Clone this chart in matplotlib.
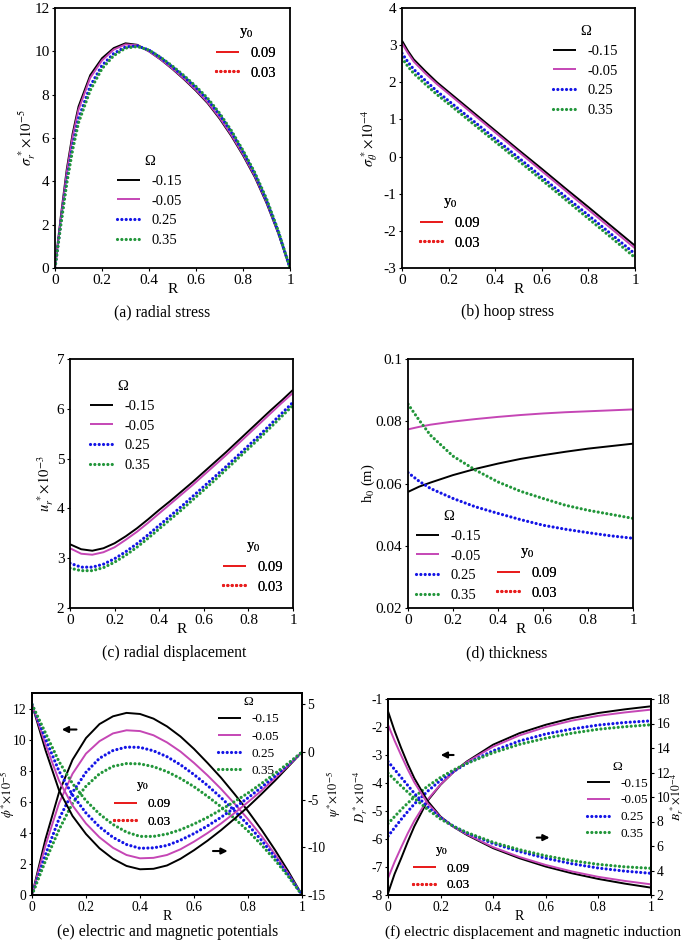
import matplotlib
matplotlib.use("Agg")
import matplotlib.pyplot as plt
from matplotlib.lines import Line2D

plt.rcParams['font.family'] = ['Liberation Serif', 'DejaVu Serif']
plt.rcParams['mathtext.fontset'] = 'stix'
plt.rcParams['font.size'] = 10.5
plt.rcParams['axes.unicode_minus'] = False

# ---------------- data ----------------
omega_labels = ['-0.15', '-0.05', '0.25', '0.35']
y0_labels = ['0.09', '0.03']

# (a) radial stress
R_a = [0, 0.025, 0.05, 0.075, 0.1, 0.15, 0.2, 0.25, 0.3, 0.35, 0.4, 0.45, 0.5, 0.55, 0.6, 0.65, 0.7, 0.75, 0.8, 0.85, 0.9, 0.95, 1.0]
sr_m015 = [0, 2.4, 4.55, 6.2, 7.45, 8.9, 9.68, 10.15, 10.37, 10.3, 10.0, 9.62, 9.18, 8.7, 8.18, 7.6, 6.9, 6.1, 5.2, 4.2, 3.0, 1.6, 0]
sr_m005 = [0, 2.3, 4.4, 6.05, 7.3, 8.78, 9.58, 10.08, 10.32, 10.28, 10.0, 9.63, 9.2, 8.73, 8.22, 7.64, 6.95, 6.15, 5.25, 4.25, 3.05, 1.63, 0]
sr_p025 = [0, 2.1, 4.05, 5.65, 6.9, 8.4, 9.35, 9.9, 10.2, 10.25, 10.06, 9.7, 9.28, 8.82, 8.32, 7.76, 7.08, 6.28, 5.36, 4.34, 3.12, 1.68, 0]
sr_p035 = [0, 2.0, 3.9, 5.45, 6.7, 8.2, 9.2, 9.8, 10.15, 10.22, 10.06, 9.72, 9.32, 8.87, 8.38, 7.83, 7.15, 6.35, 5.43, 4.41, 3.2, 1.72, 0]

# (b) hoop stress
R_b = [0, 0.025, 0.05, 0.1, 0.15, 0.2, 0.3, 0.4, 0.5, 0.6, 0.7, 0.8, 0.9, 1.0]
st_m015 = [3.12, 2.85, 2.62, 2.3, 2.0, 1.74, 1.22, 0.70, 0.18, -0.33, -0.85, -1.36, -1.88, -2.40]
st_m005 = [3.05, 2.79, 2.56, 2.24, 1.95, 1.69, 1.17, 0.65, 0.13, -0.39, -0.91, -1.43, -1.95, -2.47]
st_p025 = [2.78, 2.55, 2.35, 2.05, 1.76, 1.50, 0.99, 0.48, -0.03, -0.55, -1.07, -1.58, -2.10, -2.62]
st_p035 = [2.65, 2.43, 2.24, 1.95, 1.67, 1.42, 0.91, 0.40, -0.11, -0.63, -1.15, -1.67, -2.19, -2.72]

# (c) radial displacement
R_c = [0, 0.05, 0.1, 0.15, 0.2, 0.25, 0.3, 0.35, 0.4, 0.45, 0.5, 0.55, 0.6, 0.65, 0.7, 0.75, 0.8, 0.85, 0.9, 0.95, 1.0]
ur_m015 = [3.28, 3.18, 3.15, 3.2, 3.3, 3.44, 3.6, 3.78, 3.97, 4.15, 4.34, 4.53, 4.73, 4.93, 5.13, 5.34, 5.55, 5.76, 5.97, 6.17, 6.38]
ur_m005 = [3.2, 3.09, 3.07, 3.12, 3.22, 3.37, 3.53, 3.71, 3.9, 4.09, 4.28, 4.47, 4.67, 4.87, 5.07, 5.28, 5.49, 5.7, 5.91, 6.12, 6.32]
ur_p025 = [2.9, 2.82, 2.82, 2.88, 2.99, 3.13, 3.29, 3.47, 3.66, 3.85, 4.04, 4.24, 4.44, 4.64, 4.84, 5.05, 5.26, 5.47, 5.69, 5.91, 6.13]
ur_p035 = [2.8, 2.75, 2.75, 2.81, 2.92, 3.06, 3.22, 3.4, 3.59, 3.78, 3.97, 4.17, 4.37, 4.57, 4.78, 4.99, 5.2, 5.41, 5.63, 5.85, 6.07]

# (d) thickness
R_d = [0, 0.05, 0.1, 0.2, 0.3, 0.4, 0.5, 0.6, 0.7, 0.8, 0.9, 1.0]
h_m015 = [0.0573, 0.0590, 0.0603, 0.0627, 0.0647, 0.0664, 0.0679, 0.0691, 0.0702, 0.0712, 0.0720, 0.0728]
h_m005 = [0.0774, 0.0782, 0.0789, 0.0799, 0.0807, 0.0814, 0.0820, 0.0825, 0.0829, 0.0832, 0.0835, 0.0838]
h_p025 = [0.0635, 0.0607, 0.0584, 0.0552, 0.0525, 0.0504, 0.0484, 0.0466, 0.0453, 0.0442, 0.0432, 0.0424]
h_p035 = [0.0855, 0.0803, 0.0755, 0.0688, 0.0643, 0.0605, 0.0575, 0.0552, 0.0530, 0.0514, 0.0501, 0.0488]

# (e) electric (phi, left) and magnetic (psi, right) potentials
R_e = [0, 0.05, 0.1, 0.15, 0.2, 0.25, 0.3, 0.35, 0.4, 0.45, 0.5, 0.55, 0.6, 0.65, 0.7, 0.75, 0.8, 0.85, 0.9, 0.95, 1.0]
phi_m015 = [0, 3.6, 6.6, 8.7, 10.1, 11.0, 11.5, 11.72, 11.65, 11.35, 10.85, 10.2, 9.4, 8.5, 7.55, 6.5, 5.4, 4.2, 2.9, 1.5, 0]
phi_m005 = [0, 3.2, 5.9, 7.8, 9.1, 9.9, 10.4, 10.6, 10.55, 10.28, 9.82, 9.23, 8.5, 7.7, 6.83, 5.88, 4.88, 3.8, 2.62, 1.36, 0]
phi_p025 = [0, 2.6, 4.9, 6.6, 7.9, 8.8, 9.3, 9.52, 9.5, 9.28, 8.9, 8.38, 7.75, 7.05, 6.27, 5.42, 4.52, 3.52, 2.44, 1.27, 0]
phi_p035 = [0, 2.2, 4.2, 5.9, 7.0, 7.8, 8.28, 8.46, 8.44, 8.26, 7.94, 7.5, 6.97, 6.35, 5.68, 4.93, 4.12, 3.23, 2.25, 1.18, 0]
psi_m015 = [5, 0.2, -4.0, -6.7, -8.6, -10.1, -11.2, -11.95, -12.3, -12.25, -11.9, -11.2, -10.3, -9.3, -8.2, -7.0, -5.75, -4.4, -3.0, -1.5, 0]
psi_m005 = [5, 0.8, -3.0, -5.6, -7.5, -8.95, -10.05, -10.8, -11.15, -11.1, -10.8, -10.2, -9.4, -8.5, -7.5, -6.4, -5.25, -4.05, -2.75, -1.4, 0]
psi_p025 = [5, 1.4, -2.0, -4.5, -6.4, -7.85, -8.95, -9.7, -10.1, -10.05, -9.8, -9.25, -8.55, -7.75, -6.85, -5.85, -4.8, -3.7, -2.52, -1.28, 0]
psi_p035 = [5, 2.0, -1.0, -3.3, -5.1, -6.5, -7.6, -8.4, -8.85, -8.85, -8.6, -8.15, -7.55, -6.85, -6.05, -5.2, -4.3, -3.3, -2.25, -1.15, 0]

# (f) electric displacement (D, left) and magnetic induction (B, right)
R_f = [0, 0.025, 0.05, 0.075, 0.1, 0.15, 0.2, 0.25, 0.3, 0.4, 0.5, 0.6, 0.7, 0.8, 0.9, 1.0]
D_m015 = [-7.94, -7.25, -6.69, -6.1, -5.55, -4.64, -4.06, -3.6, -3.23, -2.63, -2.22, -1.92, -1.68, -1.5, -1.37, -1.26]
D_m005 = [-7.4, -6.82, -6.3, -5.8, -5.35, -4.6, -4.05, -3.6, -3.25, -2.7, -2.3, -2.0, -1.77, -1.6, -1.48, -1.38]
D_p025 = [-5.9, -5.6, -5.3, -5.02, -4.75, -4.3, -3.9, -3.58, -3.3, -2.85, -2.5, -2.25, -2.07, -1.93, -1.84, -1.78]
D_p035 = [-5.45, -5.2, -4.95, -4.72, -4.5, -4.12, -3.8, -3.53, -3.3, -2.92, -2.62, -2.4, -2.22, -2.08, -1.99, -1.92]
B_m015 = [17.0, 15.4, 14.0, 12.7, 11.54, 9.69, 8.4, 7.55, 6.9, 5.82, 5.0, 4.32, 3.77, 3.31, 2.93, 2.6]
B_m005 = [15.9, 14.6, 13.4, 12.25, 11.2, 9.5, 8.35, 7.55, 6.95, 5.9, 5.1, 4.45, 3.92, 3.48, 3.15, 2.87]
B_p025 = [12.9, 12.25, 11.6, 10.95, 10.3, 9.2, 8.3, 7.6, 7.05, 6.2, 5.55, 5.0, 4.55, 4.2, 3.95, 3.77]
B_p035 = [11.95, 11.42, 10.9, 10.4, 9.9, 9.0, 8.2, 7.6, 7.1, 6.3, 5.7, 5.2, 4.8, 4.5, 4.3, 4.18]

# ---------------- styles ----------------
W, H = 685, 947
C_BLACK = '#000000'
C_MAG = '#C546B5'
C_BLUE = '#1414E6'
C_GREEN = '#22963A'
C_RED = '#E81E1E'
DOT = (0, (0.01, 1.35))
solid_kw = dict(lw=1.4, solid_capstyle='butt')
dot_kw = dict(lw=2.3, linestyle=DOT, dash_capstyle='round')
series_styles = [
    dict(color=C_BLACK, **solid_kw),
    dict(color=C_MAG, **solid_kw),
    dict(color=C_BLUE, **dot_kw),
    dict(color=C_GREEN, **dot_kw),
]

fig = plt.figure(figsize=(W / 100, H / 100), dpi=100)


def make_ax(l, r, t, b):
    return fig.add_axes([l / W, 1 - b / H, (r - l) / W, (b - t) / H])


def style_ax(ax, fs, twin=False):
    ax.tick_params(direction='out', length=2.5, width=0.8, labelsize=fs, pad=1.5)
    for s in ax.spines.values():
        s.set_linewidth(1.3)
    if not twin:
        ax.tick_params(top=False, right=False)


def add_legends(ax, omega_xy, y0_xy, spacing, fs=10.5):
    hs = [Line2D([], [], **st) for st in series_styles]
    common = dict(frameon=False, loc='upper left', bbox_transform=fig.transFigure,
                  borderpad=0, borderaxespad=0, handlelength=1.55 * 10.5 / fs,
                  handletextpad=0.8, labelspacing=spacing, fontsize=fs, title_fontsize=fs)
    leg1 = ax.legend(hs, omega_labels, title='Ω',
                     bbox_to_anchor=(omega_xy[0] / W, 1 - omega_xy[1] / H), **common)
    ax.add_artist(leg1)
    hr = [Line2D([], [], color=C_RED, **solid_kw), Line2D([], [], color=C_RED, **dot_kw)]
    leg2 = ax.legend(hr, y0_labels, title=r'y$_0$',
                     bbox_to_anchor=(y0_xy[0] / W, 1 - y0_xy[1] / H), **common)
    ax.add_artist(leg2)


def set_x(ax, fs=11):
    ax.set_xlim(0, 1)
    ax.set_xticks([0, 0.2, 0.4, 0.6, 0.8, 1.0])
    ax.set_xticklabels(['0', '0.2', '0.4', '0.6', '0.8', '1'])
    ax.set_xlabel('R', fontsize=fs, labelpad=-2.5)


def ylab(ax, text, right_edge_px, l, r, fs=10.5):
    # right_edge_px: right edge of the rotated left-side label, figure pixels
    ax.set_ylabel(text, fontsize=fs)
    ax.yaxis.set_label_coords((right_edge_px - l) / (r - l), 0.5)


def ylab_right(ax, text, left_edge_px, l, r, fs=10.5):
    ax.set_ylabel(text, fontsize=fs)
    ax.yaxis.set_label_coords((left_edge_px - l) / (r - l), 0.5)


def caption(text, x, y, fs=11.3):
    fig.text(x / W, 1 - y / H, text, ha='center', va='center', fontsize=fs)


# (a)
l, r, t, b = 55, 290, 8, 268
ax = make_ax(l, r, t, b)
for ys, st in zip([sr_m015, sr_m005, sr_p025, sr_p035], series_styles):
    ax.plot(R_a, ys, **st)
ax.set_ylim(0, 12)
ax.set_yticks(range(0, 13, 2))
set_x(ax)
style_ax(ax, 11)
ylab(ax, r'$\sigma_r^{\,*}\!\times\!10^{-5}$', 38, l, r)
add_legends(ax, (117, 155), (216, 25), 0.45)
caption('(a) radial stress', 162, 312)

# (b)
l, r, t, b = 402, 635, 8, 268
ax = make_ax(l, r, t, b)
for ys, st in zip([st_m015, st_m005, st_p025, st_p035], series_styles):
    ax.plot(R_b, ys, **st)
ax.set_ylim(-3, 4)
ax.set_yticks(range(-3, 5))
set_x(ax)
style_ax(ax, 11)
ylab(ax, r'$\sigma_\theta^{\,*}\!\times\!10^{-4}$', 380, l, r)
add_legends(ax, (553, 25), (420, 195), 0.45)
caption('(b) hoop stress', 508, 312)

# (c)
l, r, t, b = 70, 293, 359, 608
ax = make_ax(l, r, t, b)
for ys, st in zip([ur_m015, ur_m005, ur_p025, ur_p035], series_styles):
    ax.plot(R_c, ys, **st)
ax.set_ylim(2, 7)
ax.set_yticks(range(2, 8))
set_x(ax)
style_ax(ax, 11)
ylab(ax, r'$u_r^{\,*}\!\times\!10^{-3}$', 56, l, r)
add_legends(ax, (90, 380), (223, 539), 0.45)
caption('(c) radial displacement', 174, 653)

# (d)
l, r, t, b = 408, 633, 359, 608
ax = make_ax(l, r, t, b)
for ys, st in zip([h_m015, h_m005, h_p025, h_p035], series_styles):
    ax.plot(R_d, ys, **st)
ax.set_ylim(0.02, 0.1)
ax.set_yticks([0.02, 0.04, 0.06, 0.08, 0.1])
ax.set_yticklabels(['0.02', '0.04', '0.06', '0.08', '0.1'])
set_x(ax)
style_ax(ax, 11)
ylab(ax, r'h$_0$ (m)', 377, l, r)
add_legends(ax, (416, 510), (497, 545), 0.45)
caption('(d) thickness', 507, 653)

# (e)
l, r, t, b = 32, 302, 693, 895
ax = make_ax(l, r, t, b)
ax2 = ax.twinx()
for ys, st in zip([phi_m015, phi_m005, phi_p025, phi_p035], series_styles):
    ax.plot(R_e, ys, **st)
for ys, st in zip([psi_m015, psi_m005, psi_p025, psi_p035], series_styles):
    ax2.plot(R_e, ys, **st)
ax.set_ylim(0, 13)
ax.set_yticks(range(0, 13, 2))
ax2.set_ylim(-15, 6.2)
ax2.set_yticks([-15, -10, -5, 0, 5])
set_x(ax, 10)
style_ax(ax, 9.8)
style_ax(ax2, 9.8, twin=True)
ax2.tick_params(left=False)
ylab(ax, r'$\phi^{*}\!\times\!10^{-5}$', 17, l, r, fs=9)
ylab_right(ax2, r'$\psi^{*}\!\times\!10^{-5}$', 324, l, r, fs=9)
ax.annotate('', xy=(0.10, 10.65), xytext=(0.175, 10.65),
            arrowprops=dict(arrowstyle='-|>', color='black', lw=1.5, mutation_scale=9))
ax.annotate('', xy=(0.735, 2.83), xytext=(0.66, 2.83),
            arrowprops=dict(arrowstyle='-|>', color='black', lw=1.5, mutation_scale=9))
add_legends(ax2, (218, 696), (114, 779), 0.38, fs=9.5)
caption('(e) electric and magnetic potentials', 168, 932)

# (f)
l, r, t, b = 388, 651, 699, 895
ax = make_ax(l, r, t, b)
ax2 = ax.twinx()
for ys, st in zip([D_m015, D_m005, D_p025, D_p035], series_styles):
    ax.plot(R_f, ys, **st)
for ys, st in zip([B_m015, B_m005, B_p025, B_p035], series_styles):
    ax2.plot(R_f, ys, **st)
ax.set_ylim(-8, -1)
ax.set_yticks(range(-8, 0))
ax2.set_ylim(2, 18)
ax2.set_yticks(range(2, 19, 2))
set_x(ax, 10)
style_ax(ax, 9.8)
style_ax(ax2, 9.8, twin=True)
ax2.tick_params(left=False)
ylab(ax, r'$D_r^{\,*}\!\times\!10^{-4}$', 370, l, r, fs=9)
ylab_right(ax2, r'$B_r^{\,*}\!\times\!10^{-4}$', 669, l, r, fs=8.5)
ax.annotate('', xy=(0.19, -3.0), xytext=(0.26, -3.0),
            arrowprops=dict(arrowstyle='-|>', color='black', lw=1.5, mutation_scale=9))
ax.annotate('', xy=(0.625, -5.95), xytext=(0.555, -5.95),
            arrowprops=dict(arrowstyle='-|>', color='black', lw=1.5, mutation_scale=9))
add_legends(ax2, (587, 761), (413, 844), 0.34, fs=9.5)
caption('(f) electric displacement and magnetic induction', 533, 932, fs=11.0)

fig.savefig('out.png', dpi=100)
